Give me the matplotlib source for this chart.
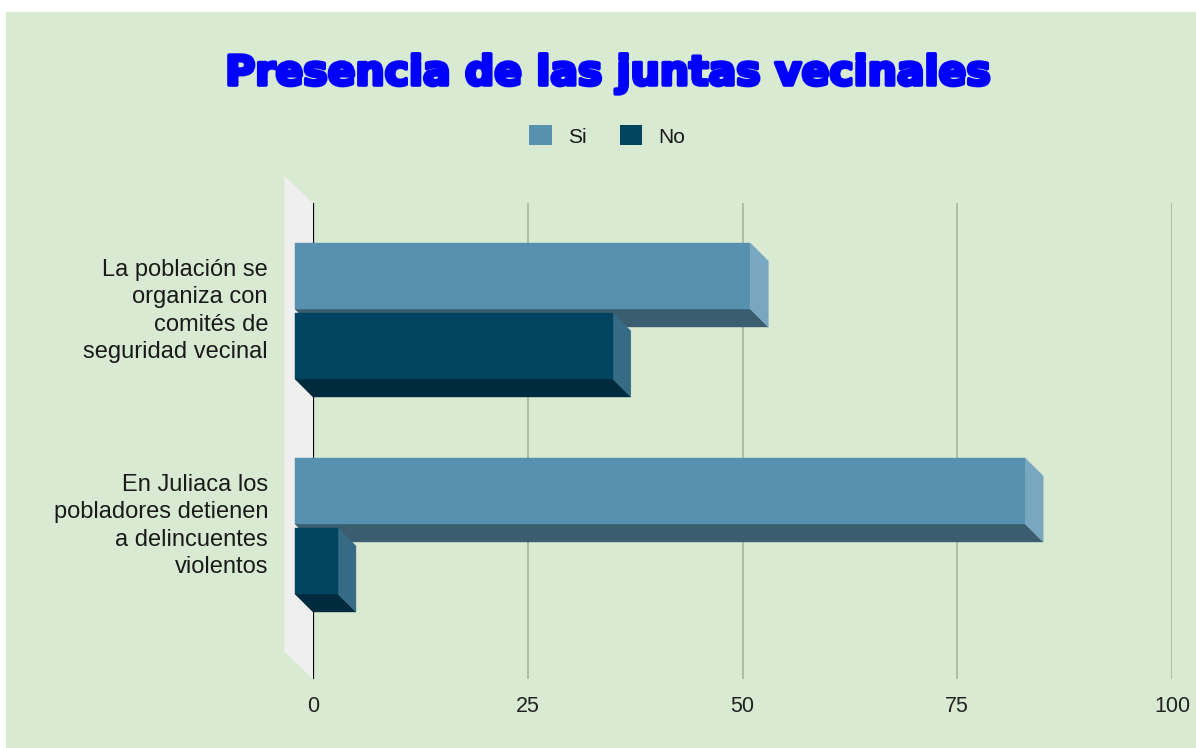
import matplotlib.pyplot as plt
import matplotlib.patheffects as pe
from matplotlib.patches import Polygon, Patch, Rectangle

# datos
categorias = ["La población se\norganiza con\ncomités de\nseguridad vecinal",
              "En Juliaca los\npobladores detienen\na delincuentes\nviolentos"]
series = ["Si", "No"]
valores_si = [53, 85]
valores_no = [37, 5]
ticks_x = [0, 25, 50, 75, 100]

colores = {
    "Si": ("#5891b0", "#78a7bf", "#3a5e70"),   # frente, lado, base
    "No": ("#00445f", "#356b84", "#002b3e"),
}

W, H = 1196, 748
fig = plt.figure(figsize=(W / 100, H / 100), dpi=100)
fig.patch.set_facecolor("white")
fig.add_artist(Rectangle((6 / W, 0), 1 - 6 / W, 1 - 12 / H, transform=fig.transFigure,
                         facecolor="#d9ead3", edgecolor="none", zorder=0))

# plano del fondo
left, right, top, bottom = 313, 1172, 203, 679
ax = fig.add_axes([left / W, 1 - bottom / H, (right - left) / W, (bottom - top) / H])
ax.set_facecolor("none")
ax.set_xlim(0, 100)
ylim = (1.628, -0.586)
ax.set_ylim(*ylim)
for s in ax.spines.values():
    s.set_visible(False)
ax.set_yticks([])

px_x = (right - left) / 100.0
px_y = 215.0
dx, dy = 18 / px_x, 18 / px_y          # profundidad de barras
wdx, wdy = 28.5 / px_x, 27 / px_y      # profundidad de la pared
ancho = 66 / px_y
hueco = 4 / px_y

# pared izquierda
y_top, y_bot = ylim[1], ylim[0]
ax.add_patch(Polygon([(0, y_top), (0, y_bot), (-wdx, y_bot - wdy), (-wdx, y_top - wdy)],
                     closed=True, facecolor="#efefef", edgecolor="none", clip_on=False, zorder=1))

# rejilla
for t in ticks_x:
    ax.plot([t, t], [y_top, y_bot], color="black" if t == 0 else "#a9b9a2",
            lw=1.6 if t == 0 else 1.3, zorder=2, solid_capstyle="butt")

ax.set_xticks(ticks_x)
ax.set_xticklabels([str(t) for t in ticks_x])
ax.tick_params(axis="x", length=0, pad=12.5, labelsize=15.5, labelcolor="#222222")
for lab in ax.get_xticklabels():
    lab.set_fontfamily("Liberation Sans")


def barra(v, y0, y1, col, z):
    frente, lado, base = col
    # cara inferior
    ax.add_patch(Polygon([(-dx, y1 - dy), (v - dx, y1 - dy), (v, y1), (0, y1)],
                         facecolor=base, edgecolor=base, lw=0.3, zorder=z, clip_on=False))
    # cara lateral
    ax.add_patch(Polygon([(v - dx, y0 - dy), (v, y0), (v, y1), (v - dx, y1 - dy)],
                         facecolor=lado, edgecolor=lado, lw=0.3, zorder=z, clip_on=False))
    # cara frontal
    ax.add_patch(Polygon([(-dx, y0 - dy), (v - dx, y0 - dy), (v - dx, y1 - dy), (-dx, y1 - dy)],
                         facecolor=frente, edgecolor=frente, lw=0.3, zorder=z + 0.5, clip_on=False))


for i, (vs, vn) in enumerate(zip(valores_si, valores_no)):
    barra(vs, i - hueco / 2 - ancho, i - hueco / 2, colores["Si"], 3)
    barra(vn, i + hueco / 2, i + hueco / 2 + ancho, colores["No"], 4)
    ax.text(-45 / (right - left), i - dy, categorias[i], transform=ax.get_yaxis_transform(),
            ha="right", va="center", multialignment="right", fontsize=17,
            family="Liberation Sans", color="#1a1a1a", linespacing=1.33)

# título
fig.text(609 / W, 1 - 74 / H, "Presencia de las juntas vecinales", ha="center", va="center",
         fontsize=29.5, fontweight="heavy", family="DejaVu Sans", color="#0000ff",
         path_effects=[pe.withStroke(linewidth=2.6, foreground="#0000ff")])

# leyenda
handles = [Patch(facecolor=colores[s][0], edgecolor="none", label=s) for s in series]
leg = fig.legend(handles=handles, loc="center", bbox_to_anchor=(607 / W, 1 - 136 / H), ncol=2,
                 frameon=False, handlelength=1.1, handleheight=1.1, handletextpad=0.75,
                 columnspacing=1.6, prop={"family": "Liberation Sans", "size": 15})
for t in leg.get_texts():
    t.set_color("#1a1a1a")

fig.savefig("out.png", dpi=100)
